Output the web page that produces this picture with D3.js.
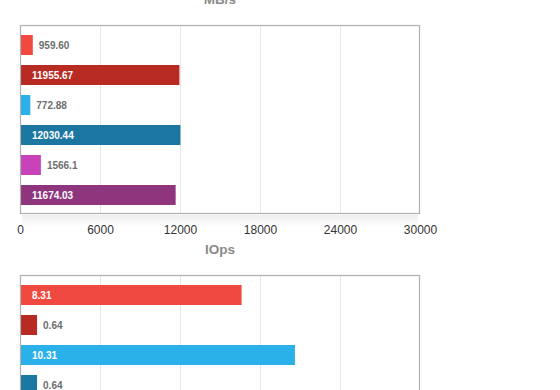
<!DOCTYPE html>
<html>
<head>
<meta charset="utf-8">
<script src="https://cdn.jsdelivr.net/npm/d3@7/dist/d3.min.js"></script>
<style>
  html, body { margin: 0; padding: 0; background: #fff; }
  svg { display: block; font-family: "Liberation Sans", Arial, Helvetica, sans-serif; }
</style>
</head>
<body>
<svg id="chart" width="560" height="390"></svg>
<script>
// ---- data ----
const categories = ["A1", "A2", "B1", "B2", "C1", "C2"];
const colors = ["#f04a40", "#b82b23", "#2ab1ea", "#1c76a2", "#c843b9", "#8e357e"];
const mbpsValues = [959.60, 11955.67, 772.88, 12030.44, 1566.1, 11674.03];
const mbpsLabels = ["959.60", "11955.67", "772.88", "12030.44", "1566.1", "11674.03"];
const mbpsTicks = [0, 6000, 12000, 18000, 24000, 30000];
const iopsValues = [8.31, 0.64, 10.31, 0.64];
const iopsLabels = ["8.31", "0.64", "10.31", "0.64"];
const iopsTicks = [0, 3, 6, 9, 12, 15];

const svg = d3.select("#chart");
const defs = svg.append("defs");
const grad = defs.append("linearGradient").attr("id", "shadow").attr("x1", 0).attr("y1", 0).attr("x2", 0).attr("y2", 1);
grad.append("stop").attr("offset", "0%").attr("stop-color", "#000").attr("stop-opacity", 0.07);
grad.append("stop").attr("offset", "100%").attr("stop-color", "#000").attr("stop-opacity", 0);

function drawChart(offsetY, title, values, labels, ticks, showAxisLabels) {
  const left = 20, width = 400, top = offsetY + 25, height = 189;
  const g = svg.append("g");
  const x = d3.scaleLinear().domain([ticks[0], ticks[ticks.length - 1]]).range([left, left + width]);
  const y = d3.scaleBand().domain(categories).range([top, top + 190]).paddingInner(1 / 3).paddingOuter(1 / 3);

  // title
  g.append("text").attr("x", left + width / 2).attr("y", offsetY + 4)
    .attr("text-anchor", "middle").attr("font-size", 13.5).attr("font-weight", "bold")
    .attr("fill", "#8a8a8a").text(title);

  // shadow under frame
  g.append("rect").attr("x", left + 2).attr("y", top + height + 1).attr("width", width - 4).attr("height", 12)
    .attr("fill", "url(#shadow)");

  // frame background
  g.append("rect").attr("x", left).attr("y", top).attr("width", width).attr("height", height).attr("fill", "#fff");

  // gridlines
  g.append("g").selectAll("line").data(ticks.slice(1, -1)).join("line")
    .attr("x1", d => Math.round(x(d)) + 0.5).attr("x2", d => Math.round(x(d)) + 0.5)
    .attr("y1", top).attr("y2", top + height)
    .attr("stroke", "#e6e6e6").attr("stroke-width", 1);

  // bars
  const data = values.map((v, i) => ({ cat: categories[i], v, label: labels[i], color: colors[i] }));
  g.append("g").selectAll("rect").data(data).join("rect")
    .attr("x", x(0)).attr("y", d => y(d.cat))
    .attr("width", d => x(d.v) - x(0)).attr("height", y.bandwidth())
    .attr("fill", d => d.color);

  // labels
  g.append("g").selectAll("text").data(data).join("text")
    .attr("x", d => (x(d.v) - x(0) > 60) ? x(0) + 12 : x(d.v) + 6)
    .attr("y", d => y(d.cat) + y.bandwidth() / 2)
    .attr("dy", "0.36em")
    .attr("font-size", 10).attr("font-weight", "bold")
    .attr("fill", d => (x(d.v) - x(0) > 60) ? "#ffffff" : "#6e6e6e")
    .text(d => d.label);

  // frame
  g.append("rect").attr("x", left + 0.5).attr("y", top + 0.5).attr("width", width - 1).attr("height", height - 1)
    .attr("fill", "none").attr("stroke", "#b0b0b0").attr("stroke-width", 1.2);

  // axis (tick labels only where visible in the window)
  if (showAxisLabels) {
    const axis = d3.axisBottom(x).tickValues(ticks).tickSize(0).tickPadding(0).tickFormat(d3.format("d"));
    const ag = g.append("g").attr("transform", `translate(0,${top + height})`).call(axis);
    ag.select(".domain").remove();
    ag.selectAll("text").attr("y", 20).attr("dy", 0).attr("font-size", 12)
      .attr("font-family", "'Liberation Sans', Arial, sans-serif").attr("fill", "#333");
  }
}

drawChart(0, "MB/s", mbpsValues, mbpsLabels, mbpsTicks, true);
drawChart(250, "IOps", iopsValues, iopsLabels, iopsTicks, false);
</script>
</body>
</html>
